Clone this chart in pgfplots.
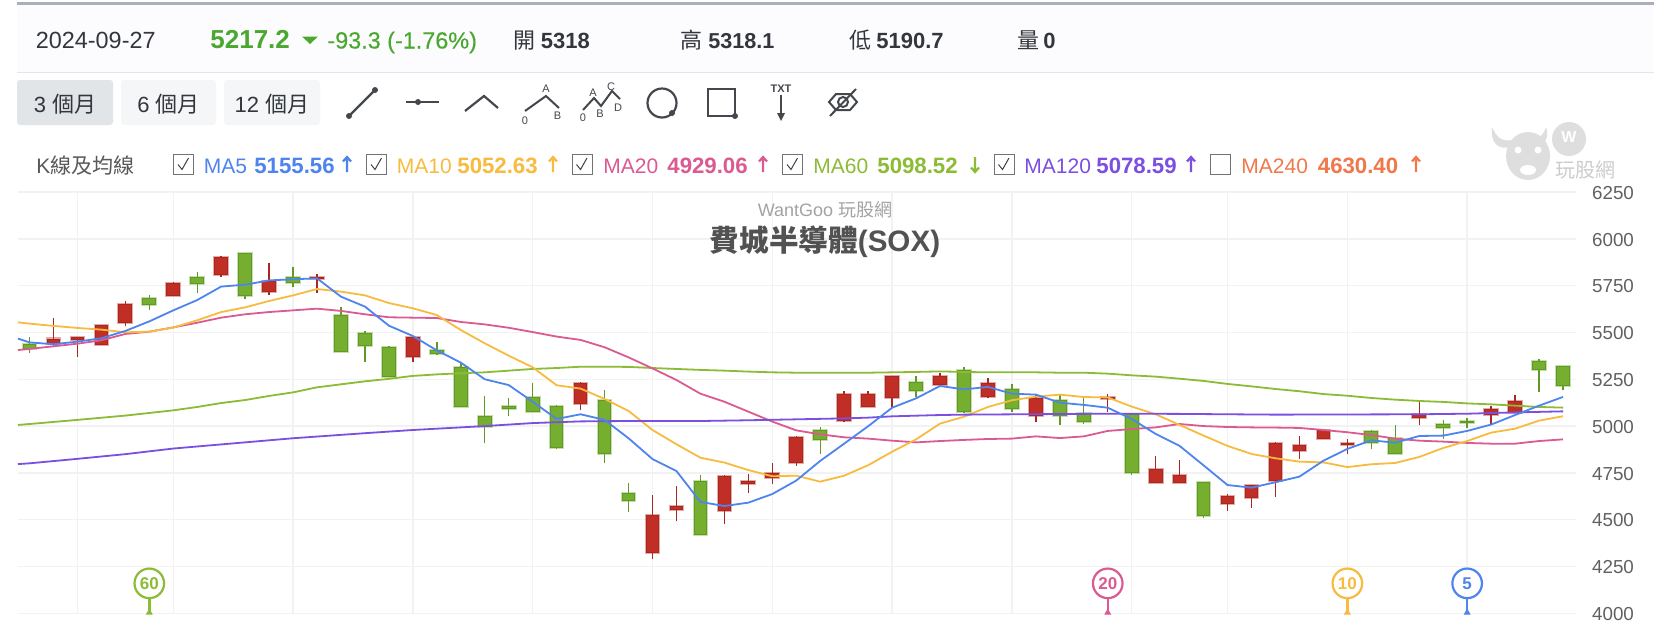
\documentclass[border=0pt]{standalone}
\usepackage{pgfplots}
\pgfplotsset{compat=1.18}
\usepackage{fontspec}
\setmainfont{Liberation Sans}
\newfontfamily\cjk{Noto Sans CJK TC}
\newfontfamily\med[FakeBold=0.35]{Liberation Sans}
\definecolor{cblue}{HTML}{4E84EE}
\definecolor{corange}{HTML}{F7BB3F}
\definecolor{cpink}{HTML}{DB5A91}
\definecolor{cgreen}{HTML}{8CBB35}
\definecolor{cpurple}{HTML}{7A4FE2}
\definecolor{ccoral}{HTML}{F0784B}
\definecolor{upfill}{HTML}{C02E26}
\definecolor{updraw}{HTML}{A8281F}
\definecolor{dnfill}{HTML}{76AF2F}
\definecolor{dndraw}{HTML}{5F9A28}
\definecolor{quote}{HTML}{4AA82F}
\definecolor{ink}{HTML}{33363B}
\definecolor{icon}{HTML}{44474C}
\definecolor{gridc}{HTML}{F2F2F2}
\newcommand\candle[6]{%
  \addplot[color=#1draw,line width=0.7pt,forget plot] coordinates {(#2,#3)(#2,#6)};
  \pgfmathsetmacro\xa{#2-0.265}\pgfmathsetmacro\xb{#2+0.265}%
  \addplot[draw=#1fill,draw opacity=0.4,line width=1.5pt,forget plot] coordinates {(\xa,#4)(\xb,#4)(\xb,#5)(\xa,#5)} --cycle;
  \addplot[draw=#1draw,fill=#1fill,line width=0.5pt,forget plot] coordinates {(\xa,#4)(\xb,#4)(\xb,#5)(\xa,#5)} --cycle;}
\newcommand\T[4]{\node[anchor=base west,inner sep=0pt,text=#3] at (#1,#2) {#4};}
\newcommand\Tc[4]{\node[anchor=base,inner sep=0pt,text=#3] at (#1,#2) {#4};}
\newcommand\V{\fontsize{11.1}{13}\selectfont\bfseries}
\newcommand\cbox[2]{%
  \draw[color=black!55,line width=0.5pt] (#1,154) rectangle +(20,20);
  \ifnum#2=1 \draw[color=black!75,line width=0.5pt] (#1+4.5,164.5)--(#1+8.5,169.5)--(#1+15,158);\fi}
\newcommand\uarr[2]{%
  \draw[color=#2,line width=1.1pt] (#1,172)--(#1,157.5) (#1-4,161.5)--(#1,157)--(#1+4,161.5);}
\newcommand\darr[2]{%
  \draw[color=#2,line width=1.1pt] (#1,157)--(#1,171.5) (#1-4,167.5)--(#1,172)--(#1+4,167.5);}
\begin{document}
\begin{tikzpicture}
\begin{scope}[x=0.5pt,y=-0.5pt]
\useasboundingbox (0,0) rectangle (1654,628);
% header
\fill[color=white] (0,0) rectangle (1654,628);
\fill[color=black!2.5!blue!1!white] (17,5) rectangle (1654,72);
\fill[color={rgb,255:red,168;green,175;blue,189}] (17,2) rectangle (1654,5);
\draw[color=black!10,line width=0.5pt] (17,72.5)--(1654,72.5);
\fontsize{11.7}{14}\selectfont
\T{35.5}{48.5}{ink}{2024-09-27}
\T{210}{48.5}{quote}{\fontsize{13}{15}\selectfont\bfseries 5217.2}
\fill[color=quote] (302,36.5)--(318,36.5)--(310,44)--cycle;
\T{327}{48.5}{quote}{\med -93.3 (-1.76\%)}
\fontsize{11}{14}\selectfont
\T{513}{48.5}{ink}{{\cjk 開}}\T{540.5}{48.5}{ink}{\bfseries 5318}
\T{680}{48.5}{ink}{{\cjk 高}}\T{708}{48.5}{ink}{\fontsize{10.8}{14}\selectfont\bfseries 5318.1}
\T{849}{48.5}{ink}{{\cjk 低}}\T{876}{48.5}{ink}{\bfseries 5190.7}
\T{1017}{48.5}{ink}{{\cjk 量}}\T{1043}{48.5}{ink}{\bfseries 0}
% buttons
\fill[color={rgb,255:red,225;green,229;blue,232},rounded corners=1.5pt] (17,80) rectangle (113,125);
\fill[color={rgb,255:red,245;green,246;blue,248},rounded corners=1.5pt] (121,80) rectangle (216,125);
\fill[color={rgb,255:red,245;green,246;blue,248},rounded corners=1.5pt] (224,80) rectangle (320,125);
\Tc{65}{112}{ink}{3 {\cjk 個月}}
\Tc{168.5}{112}{ink}{6 {\cjk 個月}}
\Tc{272}{112}{ink}{12 {\cjk 個月}}
% tool icons
\draw[color=icon,line width=1.1pt] (349,116)--(375,90);
\fill[color=icon] (349,116) circle (3) (375,90) circle (3);
\draw[color=icon,line width=1.1pt] (405.5,102)--(439,102);
\fill[color=icon] (418,102) circle (3);
\draw[color=icon,line width=1.1pt] (465,111)--(484,96)--(498,108);
\draw[color=icon,line width=1pt] (525,111)--(546,96)--(559,108);
\draw[color=icon,line width=1pt] (583,110)--(594,98)--(601,106)--(612,91)--(620,99);
\begin{scope}[font=\fontsize{5.5}{6}\selectfont]
\Tc{546}{92}{icon}{A}\Tc{557.5}{119}{icon}{B}\Tc{525}{124}{icon}{0}
\Tc{583}{121}{icon}{0}\Tc{593}{96}{icon}{A}\Tc{600}{117}{icon}{B}\Tc{611}{90}{icon}{C}\Tc{618}{111}{icon}{D}
\end{scope}
\draw[color=icon,line width=1.1pt] (662,103) circle (14.5);
\fill[color=icon] (672,113) circle (3);
\draw[color=icon,line width=1.1pt] (708,89) rectangle (735,116);
\fill[color=icon] (735,116) circle (3);
\Tc{781}{92}{icon}{\fontsize{5.5}{6}\selectfont\bfseries TXT}
\draw[color=icon,line width=0.8pt] (781,95)--(781,118);
\fill[color=icon] (781,121)--(777,113)--(785,113)--cycle;
\draw[color=icon,line width=1pt] (829,102)--(836,94)--(850,94)--(857,102)--(850,110)--(836,110)--cycle;
\draw[color=icon,line width=1pt] (843,102) circle (5);
\draw[color=icon,line width=1pt] (830,116)--(856,89);
% MA row
\fontsize{10.5}{13}\selectfont
\T{36}{173}{black!65}{K{\cjk 線及均線}}
\cbox{173.5}{1}\T{203.5}{173}{cblue}{MA5}\T{254}{173}{cblue}{\V 5155.56}\uarr{347}{cblue}
\cbox{366.5}{1}\T{396.5}{173}{corange}{MA10}\T{457}{173}{corange}{\V 5052.63}\uarr{553}{corange}
\cbox{572}{1}\T{603}{173}{cpink}{MA20}\T{667}{173}{cpink}{\V 4929.06}\uarr{763}{cpink}
\cbox{782.5}{1}\T{813}{173}{cgreen}{MA60}\T{877}{173}{cgreen}{\V 5098.52}\darr{975}{cgreen}
\cbox{994}{1}\T{1024}{173}{cpurple}{MA120}\T{1096}{173}{cpurple}{\V 5078.59}\uarr{1191}{cpurple}
\cbox{1210.5}{0}\T{1241}{173}{ccoral}{MA240}\T{1317.5}{173}{ccoral}{\V 4630.40}\uarr{1416}{ccoral}
% watermark
\fill[color=black!13] (1569,139) circle (17);
\fill[color=black!13] (1528,156) ellipse (22 and 24);
\fill[color=black!13] (1492,127) .. controls (1490,145) and (1500,150) .. (1512,147) -- (1512,140) .. controls (1502,142) and (1496,137) .. cycle;
\fill[color=black!13] (1546,127) .. controls (1550,138) and (1544,146) .. (1534,145) -- (1534,138) .. controls (1540,138) and (1544,134) .. cycle;
\fill[color=white] (1518,150) circle (3.5) (1538,150) circle (3.5);
\fill[color=white] (1528,170) ellipse (8 and 5);
\node[text=white,inner sep=0pt] at (1569,137) {\fontsize{8}{9}\selectfont\bfseries W};
\T{1555}{177}{black!20}{\fontsize{10}{11}\selectfont\cjk 玩股網}
\end{scope}
\begin{axis}[
  at={(9pt,-306.65pt)},anchor=south west,scale only axis,
  width=778.85pt,height=210.65pt,
  xmin=-0.48,xmax=64.53,ymin=4000,ymax=6250,
  clip=false,
  axis line style={draw=none},
  major tick length=0pt,
  xtick={2,6,11,16,21,26,31,36,41,46,50,55,60},xticklabels={},
  ytick={4000,4250,4500,4750,5000,5250,5500,5750,6000,6250},
  yticklabel pos=right,
  grid=major,grid style={color=gridc,line width=0.7pt},
  /pgf/number format/1000 sep={},
  /pgf/number format/assume math mode=true,
  yticklabel style={anchor=west,inner sep=0pt,xshift=8pt,yshift=-0.4pt,text=black!62,font=\fontsize{9.4}{11}\selectfont},
]
% green (down) candles
\candle{dn}{0}{5389}{5414}{5433}{5474}
\candle{dn}{5}{5622}{5648}{5682}{5698}
\candle{dn}{7}{5709}{5761}{5794}{5821}
\candle{dn}{9}{5677}{5695}{5921}{5921}
\candle{dn}{11}{5741}{5766}{5794}{5851}
\candle{dn}{13}{5398}{5398}{5593}{5634}
\candle{dn}{14}{5341}{5430}{5497}{5506}
\candle{dn}{15}{5264}{5264}{5419}{5426}
\candle{dn}{17}{5382}{5390}{5403}{5451}
\candle{dn}{18}{5102}{5102}{5314}{5339}
\candle{dn}{19}{4908}{5000}{5049}{5163}
\candle{dn}{20}{5052}{5093}{5106}{5148}
\candle{dn}{21}{5079}{5079}{5154}{5228}
\candle{dn}{22}{4876}{4885}{5106}{5114}
\candle{dn}{24}{4805}{4854}{5138}{5195}
\candle{dn}{25}{4539}{4605}{4641}{4698}
\candle{dn}{28}{4422}{4422}{4705}{4737}
\candle{dn}{33}{4853}{4927}{4977}{4993}
\candle{dn}{37}{5157}{5189}{5234}{5266}
\candle{dn}{39}{5068}{5077}{5298}{5314}
\candle{dn}{41}{5077}{5093}{5193}{5227}
\candle{dn}{43}{5004}{5056}{5137}{5166}
\candle{dn}{44}{5013}{5022}{5068}{5148}
\candle{dn}{46}{4741}{4750}{5064}{5068}
\candle{dn}{49}{4507}{4525}{4696}{4698}
\candle{dn}{56}{4876}{4911}{4970}{4979}
\candle{dn}{57}{4853}{4853}{4931}{5004}
\candle{dn}{59}{4933}{4992}{5009}{5034}
\candle{dn}{60}{4988}{5020}{5027}{5041}
\candle{dn}{63}{5180}{5303}{5346}{5356}
\candle{dn}{64}{5190.7}{5217.2}{5318}{5318.1}
% red (up) candles
\candle{up}{1}{5424}{5442}{5465}{5579}
\candle{up}{2}{5371}{5462}{5474}{5474}
\candle{up}{3}{5438}{5438}{5536}{5536}
\candle{up}{4}{5535}{5551}{5648}{5668}
\candle{up}{6}{5695}{5695}{5762}{5771}
\candle{up}{8}{5798}{5807}{5898}{5908}
\candle{up}{10}{5700}{5718}{5770}{5869}
\candle{up}{12}{5709}{5787}{5794}{5812}
\candle{up}{16}{5341}{5374}{5474}{5474}
\candle{up}{23}{5084}{5118}{5227}{5235}
\candle{up}{26}{4292}{4326}{4520}{4634}
\candle{up}{27}{4491}{4555}{4570}{4682}
\candle{up}{29}{4475}{4550}{4730}{4737}
\candle{up}{30}{4644}{4693}{4705}{4746}
\candle{up}{31}{4693}{4726}{4746}{4801}
\candle{up}{32}{4789}{4805}{4938}{4945}
\candle{up}{34}{5020}{5031}{5170}{5186}
\candle{up}{35}{5102}{5102}{5170}{5186}
\candle{up}{36}{5100}{5150}{5266}{5267}
\candle{up}{38}{5221}{5221}{5266}{5282}
\candle{up}{40}{5148}{5157}{5227}{5259}
\candle{up}{42}{5020}{5054}{5148}{5166}
\candle{up}{45}{5077}{5146}{5154}{5170}
\candle{up}{47}{4700}{4700}{4769}{4842}
\candle{up}{48}{4701}{4701}{4737}{4817}
\candle{up}{50}{4548}{4589}{4625}{4636}
\candle{up}{51}{4564}{4621}{4680}{4684}
\candle{up}{52}{4620}{4709}{4906}{4913}
\candle{up}{53}{4826}{4870}{4897}{4947}
\candle{up}{54}{4933}{4933}{4974}{4986}
\candle{up}{55}{4851}{4899}{4906}{4931}
\candle{up}{58}{5004}{5047}{5064}{5130}
\candle{up}{61}{5011}{5063}{5089}{5109}
\candle{up}{62}{5072}{5072}{5129}{5164}
% moving averages
\addplot[color=cgreen,line width=0.9pt] coordinates {(-0.48,5006)(0,5011)(2,5033)(4,5056)(6,5084)(7,5102)(8,5123)(9,5139)(10,5161)(11,5180)(12,5207)(13,5223)(14,5239)(15,5252)(16,5268)(17,5276)(18,5282)(19,5287)(20,5296)(21,5305)(22,5310)(23,5317)(24,5317)(25,5316)(26,5310)(27,5305)(28,5300)(29,5296)(30,5291)(31,5287)(32,5285)(33,5285)(34,5285)(35,5285)(36,5287)(37,5289)(38,5292)(39,5289)(40,5287)(41,5287)(42,5287)(43,5285)(44,5285)(45,5280)(46,5271)(47,5264)(48,5253)(49,5241)(50,5225)(51,5212)(52,5198)(53,5186)(54,5171)(55,5162)(56,5150)(57,5141)(58,5134)(59,5129)(60,5121)(61,5116)(62,5109)(63,5102)(64,5098.52)};
\addplot[color=cpink,line width=0.9pt] coordinates {(-0.48,5406)(0,5412)(1,5426)(2,5440)(3,5458)(4,5492)(5,5504)(6,5527)(7,5552)(8,5579)(9,5597)(10,5609)(11,5618)(12,5627)(13,5615)(14,5597)(15,5581)(16,5579)(17,5577)(18,5556)(19,5543)(20,5525)(21,5502)(22,5478)(23,5460)(24,5421)(25,5367)(26,5308)(27,5246)(28,5173)(29,5130)(30,5077)(31,5024)(32,4977)(33,4956)(34,4940)(35,4933)(36,4922)(37,4913)(38,4920)(39,4926)(40,4931)(41,4933)(42,4945)(43,4936)(44,4945)(45,4974)(46,4984)(47,4993)(48,5011)(49,5000)(50,4995)(51,4993)(52,4992)(53,4990)(54,4979)(55,4967)(56,4952)(57,4933)(58,4922)(59,4917)(60,4910)(61,4906)(62,4906)(63,4920)(64,4929.06)};
\addplot[color=corange,line width=0.9pt] coordinates {(-0.48,5554)(0,5547)(1,5535)(2,5524)(3,5515)(4,5501)(5,5504)(6,5526)(7,5565)(8,5609)(9,5634)(10,5668)(11,5698)(12,5732)(13,5718)(14,5698)(15,5657)(16,5629)(17,5593)(18,5513)(19,5442)(20,5376)(21,5314)(22,5218)(23,5200)(24,5145)(25,5081)(26,4979)(27,4903)(28,4831)(29,4805)(30,4765)(31,4732)(32,4735)(33,4703)(34,4735)(35,4791)(36,4863)(37,4929)(38,5013)(39,5050)(40,5102)(41,5138)(42,5157)(43,5168)(44,5155)(45,5153)(46,5104)(47,5063)(48,5006)(49,4949)(50,4894)(51,4851)(52,4828)(53,4810)(54,4806)(55,4781)(56,4796)(57,4803)(58,4835)(59,4883)(60,4920)(61,4965)(62,4986)(63,5029)(64,5052.63)};
\addplot[color=cpurple,line width=0.9pt] coordinates {(-0.48,4797)(0,4801)(2,4825)(4,4850)(6,4880)(8,4902)(9,4913)(10,4924)(11,4935)(12,4944)(14,4962)(16,4979)(17,4986)(19,5000)(21,5016)(23,5025)(25,5027)(27,5027)(28,5027)(30,5031)(32,5036)(34,5041)(35,5045)(36,5052)(38,5059)(39,5061)(45,5066)(46,5066)(48,5065)(52,5061)(58,5063)(60,5066)(62,5073)(64,5078.59)};
\addplot[color=cblue,line width=0.9pt] coordinates {(-0.48,5467)(0,5447)(1,5437)(2,5451)(3,5469)(4,5508)(5,5559)(6,5618)(7,5673)(8,5745)(9,5755)(10,5778)(11,5784)(12,5789)(13,5691)(14,5638)(15,5536)(16,5481)(17,5404)(18,5339)(19,5250)(20,5219)(21,5130)(22,5038)(23,5063)(24,5033)(25,4935)(26,4824)(27,4760)(28,4595)(29,4573)(30,4591)(31,4637)(32,4709)(33,4814)(34,4906)(35,4999)(36,5098)(37,5148)(38,5214)(39,5196)(40,5209)(41,5173)(42,5168)(43,5125)(44,5113)(45,5098)(46,5038)(47,4958)(48,4894)(49,4790)(50,4685)(51,4671)(52,4700)(53,4730)(54,4815)(55,4878)(56,4924)(57,4911)(58,4947)(59,4949)(60,4974)(61,5008)(62,5059)(63,5109)(64,5155.56)};
% day-count pins
\addplot[color=cgreen,line width=1.2pt] coordinates {(5,4000)(5,4078)};
\addplot[color=cpink,line width=1.2pt] coordinates {(45,4000)(45,4078)};
\addplot[color=corange,line width=1.2pt] coordinates {(55,4000)(55,4078)};
\addplot[color=cblue,line width=1.2pt] coordinates {(60,4000)(60,4078)};
\addplot[only marks,mark=triangle*,mark size=1.6pt,color=cgreen] coordinates {(5,4004)};
\addplot[only marks,mark=triangle*,mark size=1.6pt,color=cpink] coordinates {(45,4004)};
\addplot[only marks,mark=triangle*,mark size=1.6pt,color=corange] coordinates {(55,4004)};
\addplot[only marks,mark=triangle*,mark size=1.6pt,color=cblue] coordinates {(60,4004)};
\addplot[only marks,mark=*,mark size=7.4pt,mark options={draw=cgreen,fill=white,line width=1.1pt},point meta=explicit symbolic,nodes near coords,nodes near coords align={center},nodes near coords style={text=cgreen,font=\fontsize{8.5}{10}\selectfont\bfseries}] coordinates {(5,4160)[60]};
\addplot[only marks,mark=*,mark size=7.4pt,mark options={draw=cpink,fill=white,line width=1.1pt},point meta=explicit symbolic,nodes near coords,nodes near coords align={center},nodes near coords style={text=cpink,font=\fontsize{8.5}{10}\selectfont\bfseries}] coordinates {(45,4160)[20]};
\addplot[only marks,mark=*,mark size=7.4pt,mark options={draw=corange,fill=white,line width=1.1pt},point meta=explicit symbolic,nodes near coords,nodes near coords align={center},nodes near coords style={text=corange,font=\fontsize{8.5}{10}\selectfont\bfseries}] coordinates {(55,4160)[10]};
\addplot[only marks,mark=*,mark size=7.4pt,mark options={draw=cblue,fill=white,line width=1.1pt},point meta=explicit symbolic,nodes near coords,nodes near coords align={center},nodes near coords style={text=cblue,font=\fontsize{8.5}{10}\selectfont\bfseries}] coordinates {(60,4160)[5]};
\end{axis}
\begin{scope}[x=0.5pt,y=-0.5pt]
\node[text=black!36,inner sep=0pt] at (825,210) {\fontsize{9}{11}\selectfont WantGoo {\cjk 玩股網}};
\node[text=black!68,inner sep=0pt] at (825,242) {\fontsize{14.8}{18}\selectfont\bfseries{\cjk 費城半導體}(SOX)};
\end{scope}
\end{tikzpicture}
\end{document}
